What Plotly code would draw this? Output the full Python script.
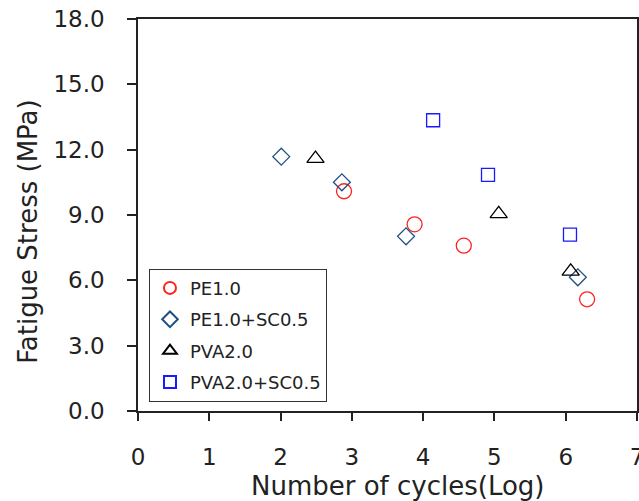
import plotly.graph_objects as go

pe_x = [2.89, 3.88, 4.57, 6.30]
pe_y = [10.09, 8.57, 7.59, 5.13]
pe_so_x = [2.01, 2.86, 3.76, 6.17]
pe_so_y = [11.68, 10.50, 8.02, 6.14]
pva_x = [2.49, 5.06, 6.07]
pva_y = [11.59, 9.05, 6.41]
pva_so_x = [4.14, 4.91, 6.06]
pva_so_y = [13.35, 10.84, 8.10]

x_ticks = [0, 1, 2, 3, 4, 5, 6, 7]
y_ticks = [0, 3, 6, 9, 12, 15, 18]
y_labels = ["0.0", "3.0", "6.0", "9.0", "12.0", "15.0", "18.0"]

FONT = "DejaVu Sans, Verdana, sans-serif"

fig = go.Figure()
fig.add_trace(go.Scatter(x=pe_x, y=pe_y, mode="markers", name="PE1.0", legendgroup="a",
                         marker=dict(symbol="circle-open", size=15, color="#ff2020", line=dict(width=1.3))))
fig.add_trace(go.Scatter(x=pe_so_x, y=pe_so_y, mode="markers", name="PE1.0+SC0.5", legendgroup="b",
                         marker=dict(symbol="diamond-open", size=13, color="#1f4f80", line=dict(width=1.3))))
fig.add_trace(go.Scatter(x=pva_x, y=pva_y, mode="markers", name="PVA2.0", legendgroup="c",
                         marker=dict(symbol="triangle-up-open", size=15, color="#000000", line=dict(width=1.3))))
fig.add_trace(go.Scatter(x=pva_so_x, y=pva_so_y, mode="markers", name="PVA2.0+SC0.5", legendgroup="d",
                         marker=dict(symbol="square-open", size=13, color="#1a1aff", line=dict(width=1.3))))

fig.update_layout(
    width=639, height=501,
    margin=dict(l=138, r=2, t=19, b=90),
    paper_bgcolor="white", plot_bgcolor="white",
    font=dict(family=FONT, color="#222222", size=21),
    showlegend=True,
    legend=dict(x=0.022, y=0.363, xanchor="left", yanchor="top",
                bordercolor="#333333", borderwidth=1, bgcolor="white",
                font=dict(size=18, family=FONT), tracegroupgap=5, traceorder="grouped",
                itemsizing="constant"),
    xaxis=dict(range=[0, 7], tickvals=x_ticks, ticktext=[str(v) for v in x_ticks],
               automargin=False,
               showgrid=False, zeroline=False, showline=True, linecolor="#222222", linewidth=1.5,
               mirror=True, ticks="outside", ticklen=8, tickcolor="#222222", tickwidth=1.5,
               ticklabeloverflow="allow", ticklabelstandoff=17,
               tickfont=dict(size=23)),
    yaxis=dict(range=[0, 18], tickvals=y_ticks, ticktext=y_labels,
               automargin=False,
               showgrid=False, zeroline=False, showline=True, linecolor="#222222", linewidth=1.5,
               mirror=True, ticks="outside", ticklen=9, tickcolor="#222222", tickwidth=1.5,
               ticklabelstandoff=18,
               tickfont=dict(size=23)),
    annotations=[
        dict(text="Fatigue Stress (MPa)", textangle=-90, xref="paper", yref="paper",
             x=-0.221, y=0.459, xanchor="center", yanchor="middle", showarrow=False,
             font=dict(size=26, family=FONT, color="#222222")),
        dict(text="Number of cycles(Log)", xref="paper", yref="paper",
             x=0.521, y=-0.191, xanchor="center", yanchor="middle", showarrow=False,
             font=dict(size=26, family=FONT, color="#222222")),
    ],
)

fig.write_html("out.html")
